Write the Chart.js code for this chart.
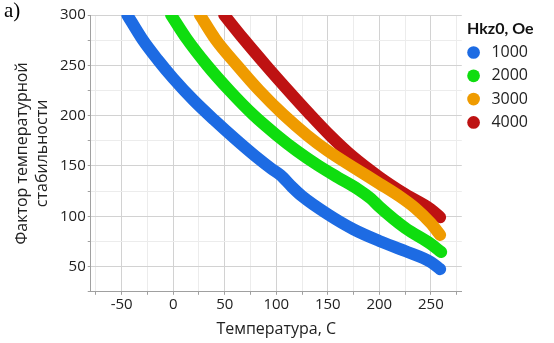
<!DOCTYPE html>
<html><head><meta charset="utf-8">
<script src="https://cdn.jsdelivr.net/npm/chart.js@4.4.0/dist/chart.umd.min.js"></script>
<style>
html,body{margin:0;padding:0;background:#fff;}
#wrap{position:relative;width:554px;height:343px;}
#lbl{position:absolute;left:4px;top:-2px;font-family:"Liberation Serif";font-size:21px;color:#000;}
</style></head><body>
<div id="wrap"><canvas id="c" width="554" height="343" style="width:554px;height:343px"></canvas><div id="lbl">a)</div></div>
<script>
const seriesNames = ['1000', '2000', '3000', '4000'];
const seriesColors = ['#1d6be3', '#0fdd0f', '#ef9b00', '#be1212'];

const tBlue = [-44.5, -30, -15, 0, 20, 40, 60, 80, 95, 104, 115, 125, 150, 175, 200, 225, 250, 259];
const vBlue = [300, 276, 255.5, 237, 215, 195.5, 177, 159.5, 147.5, 141, 129.5, 120, 102, 87, 75.5, 65.5, 54.5, 47.5];

const tGreen = [-2, 13, 33, 55, 78, 100, 120, 140, 160, 180, 192, 200, 225, 250, 260];
const vGreen = [300, 276.5, 250, 224.5, 200.5, 181, 165, 151, 138.5, 126.5, 117.5, 109.5, 88.5, 72.5, 64.5];

const tOrange = [26, 41, 62, 84, 107, 130, 150, 175, 200, 220, 235, 250, 259];
const vOrange = [300, 276, 250, 224.5, 201, 180.5, 165, 148.5, 132.5, 119.5, 108, 93, 81.5];

const tRed = [49.5, 68, 90, 112, 132, 152, 174, 200, 225, 250, 259];
const vRed = [300, 276.5, 250, 224.5, 202, 180.5, 159.5, 139, 122, 107, 99];

const xTicksMajor = [-50, 0, 50, 100, 150, 200, 250];
const yTicksMajor = [50, 100, 150, 200, 250, 300];

const FONT = 'Open Sans';
const toPts = (ts, vs) => ts.map((t, i) => ({x: t, y: vs[i]}));
const allT = [tBlue, tGreen, tOrange, tRed];
const allV = [vBlue, vGreen, vOrange, vRed];

const datasets = seriesNames.map((n, i) => ({
  label: n,
  data: toPts(allT[i], allV[i]),
  borderColor: seriesColors[i],
  backgroundColor: seriesColors[i],
  borderWidth: 12,
  borderCapStyle: 'round',
  borderJoinStyle: 'round',
  pointRadius: 0,
  pointStyle: 'circle',
  cubicInterpolationMode: 'monotone',
  clip: {left: 0, top: 0, right: 10, bottom: 10}
}));

const gridColor = (major) => (ctx) => {
  const v = ctx.tick ? ctx.tick.value : null;
  return major.includes(v) ? '#d2d2d2' : '#ececec';
};

new Chart(document.getElementById('c'), {
  type: 'line',
  data: {datasets},
  options: {
    responsive: false,
    animation: false,
    devicePixelRatio: 1,
    layout: {padding: {left: 8, right: 16, top: 15, bottom: 4}},
    scales: {
      x: {
        type: 'linear', min: -80, max: 280,
        border: {color: '#a0a0a0', width: 1},
        grid: {color: gridColor(xTicksMajor), tickColor: '#a0a0a0', tickLength: 3},
        ticks: {stepSize: 25, includeBounds: false, autoSkip: false, maxRotation: 0,
          padding: 1, color: '#222', font: {family: FONT, size: 15},
          callback: (v) => xTicksMajor.includes(v) ? String(v) : ''},
        title: {display: true, text: 'Температура, С', color: '#222',
          font: {family: FONT, size: 16}, padding: {top: 5, bottom: 0}}
      },
      y: {
        type: 'linear', min: 25, max: 300,
        border: {color: '#a0a0a0', width: 1},
        grid: {color: gridColor(yTicksMajor), tickColor: '#a0a0a0', tickLength: 3},
        ticks: {stepSize: 25, autoSkip: false, padding: 2, color: '#222',
          font: {family: FONT, size: 15},
          callback: (v) => yTicksMajor.includes(v) ? String(v) : ''},
        title: {display: true, text: ['Фактор температурной', 'стабильности'], color: '#222',
          font: {family: FONT, size: 16, lineHeight: 1.25}, padding: {top: 4, bottom: 6}}
      }
    },
    plugins: {
      tooltip: {enabled: false},
      legend: {
        position: 'right', align: 'start',
        title: {display: true, text: '\u2004Hkz0, Oe', color: '#111', position: 'start',
          font: {family: 'Lato', size: 16, weight: 'bold'}, padding: {top: 6, bottom: -3}},
        labels: {
          usePointStyle: true, boxWidth: 9, boxHeight: 9, padding: 7.3,
          color: '#222', font: {family: FONT, size: 16},
          generateLabels: (chart) => {
            const items = Chart.defaults.plugins.legend.labels.generateLabels(chart);
            items.forEach(it => { it.lineWidth = 0; it.pointStyle = 'circle'; it.text = '\u2004' + it.text; });
            return items;
          }
        }
      }
    }
  }
});
</script>
</body></html>
